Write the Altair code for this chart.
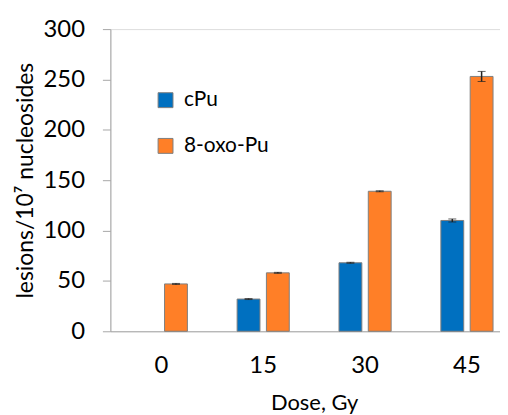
import altair as alt
import pandas as pd

doses = ["0", "15", "30", "45"]
series = ["cPu", "8-oxo-Pu"]
cpu_vals = [None, 32, 68, 110]
cpu_err = [None, 0.5, 0.5, 1.5]
oxo_vals = [47, 58, 139, 253]
oxo_err = [0.5, 0.5, 0.5, 5]
colors = ["#0070C0", "#FF7F27"]

rows = []
for d, v, e in zip(doses, cpu_vals, cpu_err):
    if v is not None:
        rows.append({"dose": d, "series": "cPu", "value": v, "lo": v - e, "hi": v + e})
for d, v, e in zip(doses, oxo_vals, oxo_err):
    rows.append({"dose": d, "series": "8-oxo-Pu", "value": v, "lo": v - e, "hi": v + e})
df = pd.DataFrame(rows)

FONT = "Lato"

x = alt.X("dose:N", sort=doses,
          scale=alt.Scale(range=[0, 410], paddingInner=0.488, paddingOuter=0.244),
          axis=alt.Axis(title="Dose, Gy", labelAngle=0, ticks=False,
                        domainColor="#A6A6A6", labelFontSize=24, labelColor="black",
                        labelPadding=22, titleFontSize=22, titleColor="black",
                        titleFontWeight="normal", titlePadding=16, labelFont=FONT, titleFont=FONT))
xoff = alt.XOffset("series:N", sort=series,
                   scale=alt.Scale(domain=series, paddingInner=0.22, paddingOuter=0))
yscale = alt.Scale(domain=[0, 300])

bars = alt.Chart(df).mark_bar(stroke="#7F7F7F", strokeWidth=1).encode(
    x=x,
    xOffset=xoff,
    y=alt.Y("value:Q", scale=yscale,
            axis=alt.Axis(title="lesions/10⁷ nucleosides", values=[0, 50, 100, 150, 200, 250, 300],
                          grid=False, domainColor="#A6A6A6", tickColor="#A6A6A6", tickSize=8,
                          labelFontSize=24, labelColor="black", labelPadding=18,
                          titleFontSize=23, titleColor="black", titleFontWeight="normal",
                          titlePadding=6, labelFont=FONT, titleFont=FONT)),
    color=alt.Color("series:N", sort=series,
                    scale=alt.Scale(domain=series, range=colors),
                    legend=alt.Legend(title=None, orient="none", legendX=45, legendY=61,
                                      symbolType="square", symbolSize=225,
                                      symbolStrokeColor="#7F7F7F", symbolStrokeWidth=1,
                                      labelFontSize=21, labelFont=FONT, labelColor="black",
                                      rowPadding=24, labelOffset=8)),
)

err = alt.Chart(df).mark_rule(color="#222222", strokeWidth=1.5).encode(
    x=x, xOffset=xoff,
    y=alt.Y("lo:Q", scale=yscale),
    y2="hi:Q",
)
caps_hi = alt.Chart(df).mark_tick(color="#222222", thickness=1, size=8).encode(
    x=x, xOffset=xoff, y=alt.Y("hi:Q", scale=yscale),
)
caps_lo = alt.Chart(df).mark_tick(color="#222222", thickness=1, size=8).encode(
    x=x, xOffset=xoff, y=alt.Y("lo:Q", scale=yscale),
)

chart = alt.layer(bars, err, caps_hi, caps_lo).properties(
    width=392, height=304,
    autosize=alt.AutoSizeParams(type="none"),
    padding={"left": 103, "top": 20, "right": 0, "bottom": 83},
).configure_view(stroke=None).configure(font=FONT)

chart.save("out.html", embed_options={"renderer": "svg", "actions": False})
